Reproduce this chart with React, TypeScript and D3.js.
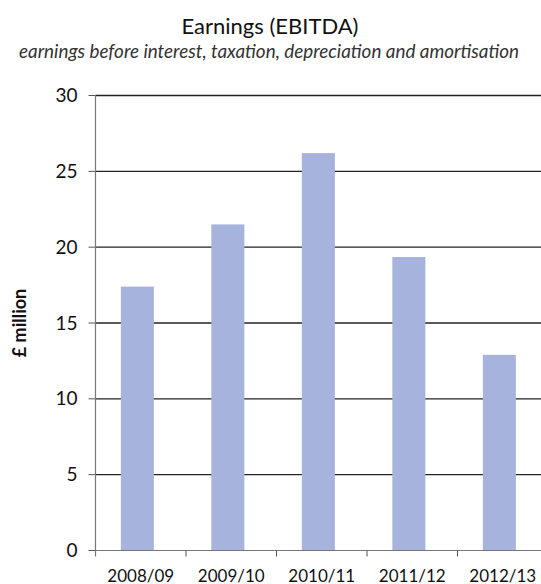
import * as d3 from 'd3'

const WIDTH = 541
const HEIGHT = 584
const MARGIN = {top: 95.5, right: -7, bottom: 33.5, left: 95.5}

const categories = ['2008/09', '2009/10', '2010/11', '2011/12', '2012/13']
const ebitda = [17.4, 21.5, 26.2, 19.35, 12.9]
const yTicks = [0, 5, 10, 15, 20, 25, 30]

const FONT = 'Lato, "Open Sans", sans-serif'
const BAR = '#a6b3dc'

export default function App() {
  const boundsWidth = WIDTH - MARGIN.left - MARGIN.right
  const boundsHeight = HEIGHT - MARGIN.top - MARGIN.bottom

  const xScale = d3.scaleBand().domain(categories).range([0, boundsWidth])
  const yScale = d3.scaleLinear().domain([0, 30]).range([boundsHeight, 0])
  const bw = xScale.bandwidth()

  return (
    <svg
      width={WIDTH}
      height={HEIGHT}
      style={{position: 'absolute', left: 0, top: 0, background: '#fff'}}>
      <text x={270} y={34} textAnchor="middle" fontFamily={FONT} fontSize={22} fill="#111">
        Earnings (EBITDA)
      </text>
      <text
        x={269}
        y={58}
        textAnchor="middle"
        fontFamily={FONT}
        fontStyle="italic"
        fontSize={19}
        textLength={500}
        lengthAdjust="spacingAndGlyphs"
        fill="#333">
        earnings before interest, taxation, depreciation and amortisation
      </text>
      <text
        transform={`translate(26,${MARGIN.top + boundsHeight / 2}) rotate(-90)`}
        textAnchor="middle"
        fontFamily={FONT}
        fontWeight={700}
        fontSize={18}
        fill="#111">
        £ million
      </text>
      <g transform={`translate(${MARGIN.left},${MARGIN.top})`}>
        {yTicks.map(t => (
          <g key={t}>
            {t > 0 && (
              <line x1={0} x2={boundsWidth} y1={yScale(t)} y2={yScale(t)} stroke="#222" strokeWidth={1.3} />
            )}
            <line x1={-7} x2={0} y1={yScale(t)} y2={yScale(t)} stroke="#555" />
            <text
              x={-18}
              y={yScale(t)}
              dy="0.35em"
              textAnchor="end"
              fontFamily={FONT}
              fontSize={19}
              fill="#111">
              {t}
            </text>
          </g>
        ))}
        {categories.map((c, i) => (
          <rect
            key={c}
            x={(xScale(c) as number) + bw * 0.28}
            width={bw * 0.365}
            y={yScale(ebitda[i])}
            height={boundsHeight - yScale(ebitda[i])}
            fill={BAR}
          />
        ))}
        <line x1={0} x2={0} y1={0} y2={boundsHeight + 6} stroke="#777" strokeWidth={1.2} />
        <line x1={0} x2={boundsWidth} y1={boundsHeight} y2={boundsHeight} stroke="#777" strokeWidth={1.2} />
        {categories.map((c, i) => (
          <g key={c}>
            {i > 0 && (
              <line
                x1={xScale(c) as number}
                x2={xScale(c) as number}
                y1={boundsHeight}
                y2={boundsHeight + 6}
                stroke="#555"
              />
            )}
            <text
              x={(xScale(c) as number) + bw / 2}
              y={boundsHeight + 31}
              textAnchor="middle"
              fontFamily={FONT}
              fontSize={17}
              fill="#111">
              {c}
            </text>
          </g>
        ))}
      </g>
    </svg>
  )
}
